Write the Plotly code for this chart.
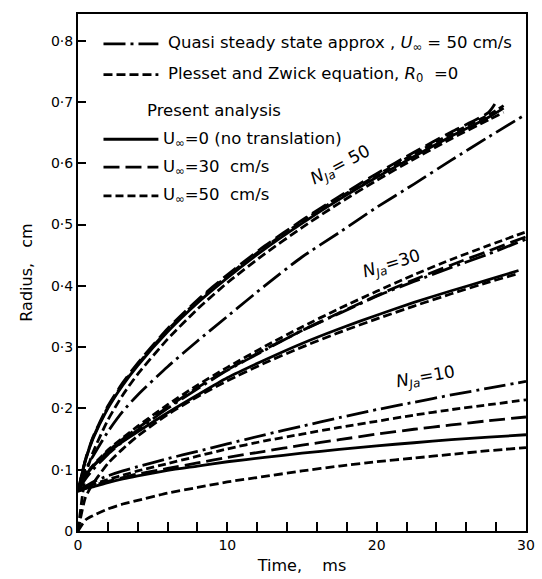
import plotly.graph_objects as go

# ---------------- data ----------------
T = [0, 0.5, 1, 2, 3, 4, 6, 8, 10, 12.5, 15, 17.5, 20, 22.5, 25, 27.5, 30]
T30 = [0, 0.5, 1, 2, 3, 4, 6, 8, 10, 12.5, 15, 17.5, 20, 22.5, 25, 27.5, 29.5]
T50 = [0, 0.5, 1, 2, 3, 4, 6, 8, 10, 12.5, 15, 17.5, 20, 22.5, 25, 27.5, 28.5]
T50b = [0, 0.5, 1, 2, 3, 4, 6, 8, 10, 12.5, 15, 17.5, 20, 22.5, 25, 27.5, 28.0]

# N_Ja = 10
n10_plesset = [0, 0.018, 0.025, 0.036, 0.044, 0.050, 0.062, 0.071, 0.080, 0.089, 0.098, 0.106, 0.113, 0.119, 0.125, 0.131, 0.136]
n10_u0 = [0.065, 0.069, 0.072, 0.079, 0.085, 0.090, 0.099, 0.106, 0.113, 0.120, 0.127, 0.133, 0.139, 0.144, 0.149, 0.153, 0.157]
n10_u30 = [0.065, 0.070, 0.074, 0.081, 0.087, 0.093, 0.102, 0.111, 0.120, 0.130, 0.140, 0.149, 0.158, 0.166, 0.173, 0.180, 0.186]
n10_u50 = [0.065, 0.071, 0.076, 0.084, 0.091, 0.098, 0.110, 0.122, 0.134, 0.147, 0.158, 0.169, 0.179, 0.189, 0.198, 0.206, 0.214]
n10_quasi = [0.065, 0.073, 0.080, 0.090, 0.098, 0.105, 0.118, 0.130, 0.142, 0.157, 0.171, 0.185, 0.198, 0.210, 0.222, 0.233, 0.244]

# N_Ja = 30
n30_plesset = [0, 0.055, 0.077, 0.110, 0.134, 0.155, 0.190, 0.219, 0.245, 0.274, 0.300, 0.324, 0.346, 0.367, 0.387, 0.406, 0.420]
n30_u0 = [0.065, 0.090, 0.105, 0.128, 0.146, 0.162, 0.193, 0.222, 0.250, 0.279, 0.306, 0.330, 0.352, 0.373, 0.392, 0.410, 0.425]
n30_u30 = [0.065, 0.090, 0.106, 0.130, 0.150, 0.168, 0.202, 0.234, 0.263, 0.296, 0.327, 0.356, 0.384, 0.410, 0.434, 0.457, 0.480]
n30_u50 = [0.065, 0.091, 0.107, 0.132, 0.152, 0.171, 0.206, 0.238, 0.267, 0.301, 0.333, 0.363, 0.391, 0.418, 0.443, 0.466, 0.488]
n30_quasi = [0.065, 0.085, 0.100, 0.125, 0.146, 0.165, 0.200, 0.232, 0.262, 0.295, 0.327, 0.355, 0.383, 0.407, 0.430, 0.452, 0.476]

# N_Ja = 50
n50_plesset = [0, 0.090, 0.128, 0.181, 0.222, 0.256, 0.313, 0.362, 0.405, 0.452, 0.495, 0.535, 0.572, 0.607, 0.640, 0.671, 0.683]
n50_u0 = [0.065, 0.115, 0.150, 0.200, 0.238, 0.270, 0.325, 0.372, 0.413, 0.460, 0.502, 0.541, 0.577, 0.611, 0.644, 0.675, 0.690]
n50_u30 = [0.065, 0.117, 0.153, 0.204, 0.242, 0.274, 0.330, 0.377, 0.418, 0.465, 0.507, 0.546, 0.583, 0.618, 0.651, 0.683, 0.700]
n50_u50 = [0.065, 0.116, 0.152, 0.202, 0.240, 0.272, 0.328, 0.375, 0.416, 0.463, 0.505, 0.544, 0.580, 0.615, 0.648, 0.679, 0.694]
n50_quasi = [0.065, 0.100, 0.122, 0.162, 0.195, 0.222, 0.268, 0.310, 0.350, 0.400, 0.447, 0.487, 0.528, 0.566, 0.605, 0.643, 0.680]

y_tickvals = [0, 0.1, 0.2, 0.3, 0.4, 0.5, 0.6, 0.7, 0.8]
y_ticktext = ["0", "0·1", "0·2", "0·3", "0·4", "0·5", "0·6", "0·7", "0·8"]
x_tickvals = [0, 10, 20, 30]
x_ticktext = ["0", "10", "20", "30"]

# ---------------- styles ----------------
FONT = "DejaVu Sans"
LW = 2.8
STY = {
    "quasi": "22px,5px,3px,5px",
    "plesset": "9px,4px",
    "u0": "solid",
    "u30": "16px,6px",
    "u50": "8px,4px",
}

fig = go.Figure()

series = [
    (T, n10_plesset, "plesset"), (T, n10_u0, "u0"), (T, n10_u30, "u30"), (T, n10_u50, "u50"), (T, n10_quasi, "quasi"),
    (T30, n30_plesset, "plesset"), (T30, n30_u0, "u0"), (T, n30_u30, "u30"), (T, n30_u50, "u50"), (T, n30_quasi, "quasi"),
    (T50, n50_plesset, "plesset"), (T50, n50_u0, "u0"), (T50b, n50_u30, "u30"), (T50, n50_u50, "u50"), (T, n50_quasi, "quasi"),
]
for tx, ry, kind in series:
    fig.add_trace(go.Scatter(x=tx, y=ry, mode="lines", showlegend=False,
                             line=dict(color="black", width=LW, dash=STY[kind], shape="spline", smoothing=0.6)))

# ---------------- layout ----------------
L, R, TOP, BOT = 78, 535, 14, 534
W, H = 542, 579
PH = BOT - TOP
PW = R - L
ymax = 0.1 * PH / 61.65

def px(xp):
    return (xp - L) / PW

def py(yp):
    return (BOT - yp) / PH

fig.update_layout(
    width=W, height=H,
    margin=dict(l=L, r=W - R, t=TOP, b=H - BOT),
    paper_bgcolor="white", plot_bgcolor="white",
    font=dict(family=FONT, color="black", size=14),
    xaxis=dict(range=[0, 30], tickvals=x_tickvals, ticktext=x_ticktext, ticks="inside", ticklen=9,
               tickwidth=1.5, tickcolor="black", showgrid=False, zeroline=False, showline=True,
               linecolor="black", linewidth=2, mirror=True,
               minor=dict(dtick=2, ticks="inside", ticklen=9, tickwidth=1.5, tickcolor="black"),
               tickfont=dict(size=14), title=dict(text="Time,    ms", font=dict(size=16), standoff=8)),
    yaxis=dict(range=[0, ymax], tickvals=y_tickvals, ticktext=y_ticktext, ticks="inside", ticklen=8,
               tickwidth=1.5, tickcolor="black", showgrid=False, zeroline=False, showline=True,
               linecolor="black", linewidth=2, mirror=True, tickfont=dict(size=14),
               title=dict(text="Radius,   cm", font=dict(size=16), standoff=14)),
)

# ---------------- hand-drawn legend ----------------
rows = [
    (44, "quasi", "Quasi steady state approx , <i>U</i><sub>∞</sub> = 50 cm/s", 168),
    (75, "plesset", "Plesset and Zwick equation, <i>R</i><sub>0</sub>  =0", 168),
    (140, "u0", "U<sub>∞</sub>=0 (no translation)", 163),
    (168, "u30", "U<sub>∞</sub>=30  cm/s", 163),
    (197, "u50", "U<sub>∞</sub>=50  cm/s", 163),
]
for ypix, kind, text, xt in rows:
    fig.add_shape(type="line", xref="paper", yref="paper", x0=px(104), x1=px(160), y0=py(ypix), y1=py(ypix),
                  line=dict(color="black", width=LW, dash=STY[kind]))
    fig.add_annotation(xref="paper", yref="paper", x=px(xt), y=py(ypix), text=text, showarrow=False,
                       xanchor="left", yanchor="middle", font=dict(size=16.5))
fig.add_annotation(xref="paper", yref="paper", x=px(146), y=py(111), text="Present analysis", showarrow=False,
                   xanchor="left", yanchor="middle", font=dict(size=16.5))

# N_Ja labels
for xv, yv, txt, ang in [(17.6, 0.597, "<i>N</i><sub><i>Ja</i></sub>= 50", -28),
                         (21.0, 0.435, "<i>N</i><sub><i>Ja</i></sub>=30", -17),
                         (23.3, 0.25, "<i>N</i><sub><i>Ja</i></sub>=10", -10)]:
    fig.add_annotation(x=xv, y=yv, text=txt, showarrow=False, textangle=ang, font=dict(size=17))

fig.write_html("out.html")
